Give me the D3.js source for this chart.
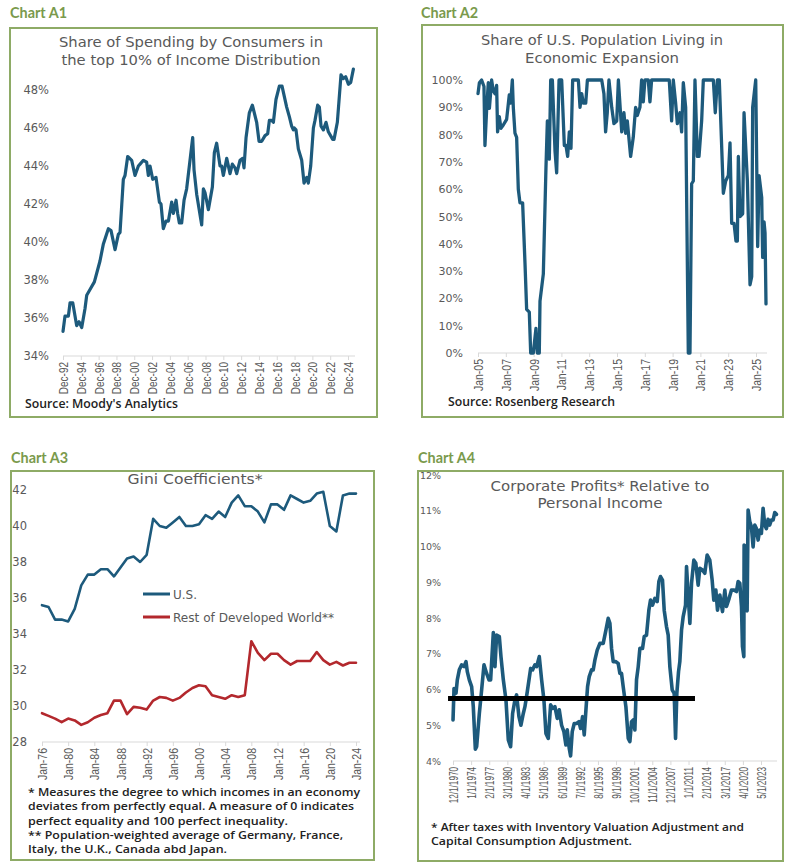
<!DOCTYPE html>
<html>
<head>
<meta charset="utf-8">
<script src="https://cdn.jsdelivr.net/npm/d3@7"></script>
<style>
  body { margin: 0; background: #fff; }
  svg { display: block; }
</style>
</head>
<body>
<script>
// ---- Chart A1: share of spending, top 10% ----
const spendDates = [
  1992.92, 1993.14, 1993.52, 1993.71, 1994.01, 1994.45, 1994.72, 1995.02, 1995.39, 1995.58,
  1995.95, 1996.44, 1997.07, 1997.45, 1998.01, 1998.31, 1998.76, 1999.13, 1999.32, 1999.69,
  1999.88, 2000.18, 2000.63, 2001.00, 2001.38, 2001.57, 2001.94, 2002.31, 2002.50, 2002.69,
  2002.99, 2003.36, 2003.74, 2003.92, 2004.18, 2004.48, 2004.75, 2005.12, 2005.31, 2005.61,
  2005.79, 2005.98, 2006.24, 2006.51, 2006.80, 2007.48, 2007.63, 2007.93, 2008.49, 2008.68,
  2008.86, 2009.24, 2009.69, 2009.91, 2010.17, 2010.55, 2010.73, 2010.92, 2011.30, 2011.67,
  2011.93, 2012.23, 2012.42, 2012.79, 2013.09, 2013.24, 2013.47, 2013.84, 2014.18, 2014.66,
  2014.93, 2015.23, 2015.60, 2015.90, 2016.09, 2016.35, 2016.54, 2016.83, 2017.21, 2017.51,
  2018.03, 2018.33, 2018.59, 2018.78, 2018.89, 2019.08, 2019.34, 2019.72, 2019.98, 2020.28,
  2020.46, 2020.73, 2021.03, 2021.21, 2021.51, 2021.70, 2021.89, 2022.15, 2022.45, 2022.71,
  2023.20, 2023.35, 2023.72, 2024.13, 2024.39, 2024.66, 2024.96, 2025.22, 2025.52
];
const spendShare = [
  35.3, 36.1, 36.1, 36.8, 36.8, 35.6, 35.8, 35.5, 36.5, 37.2,
  37.5, 37.9, 39.0, 39.9, 40.7, 40.6, 39.6, 40.4, 40.5, 43.3,
  43.5, 44.5, 44.3, 43.5, 44.0, 44.1, 44.3, 44.2, 43.5, 44.0,
  43.3, 43.4, 42.1, 42.0, 40.7, 41.1, 41.1, 42.1, 41.5, 42.2,
  41.5, 41.0, 41.0, 42.2, 42.8, 45.5, 43.8, 42.5, 40.9, 42.8,
  42.6, 41.7, 42.9, 44.7, 45.2, 44.0, 44.0, 43.5, 44.4, 43.6,
  44.1, 43.9, 43.6, 44.3, 44.4, 43.9, 45.5, 46.8, 47.2, 46.3,
  45.3, 45.3, 45.6, 45.7, 46.4, 46.4, 46.3, 47.5, 48.2, 48.2,
  47.1, 46.6, 46.1, 45.9, 46.0, 45.9, 44.9, 44.3, 43.1, 43.4,
  43.1, 44.0, 46.0, 46.4, 47.2, 47.1, 46.1, 45.9, 46.3, 45.8,
  45.4, 45.4, 46.3, 48.8, 48.6, 48.7, 48.3, 48.4, 49.1
];
const spendTicks = ["Dec-92", "Dec-94", "Dec-96", "Dec-98", "Dec-00", "Dec-02", "Dec-04", "Dec-06",
  "Dec-08", "Dec-10", "Dec-12", "Dec-14", "Dec-16", "Dec-18", "Dec-20", "Dec-22", "Dec-24"];
const spendY = [34, 36, 38, 40, 42, 44, 46, 48];

// ---- Chart A2: share of population in expansion ----
const popDates = [
  2005.00, 2005.10, 2005.26, 2005.43, 2005.50, 2005.62, 2005.74, 2005.82, 2005.98, 2006.10,
  2006.22, 2006.34, 2006.41, 2006.53, 2006.65, 2006.82, 2007.06, 2007.25, 2007.35, 2007.47,
  2007.54, 2007.66, 2007.78, 2007.90, 2008.02, 2008.21, 2008.38, 2008.50, 2008.69, 2008.79,
  2008.98, 2009.17, 2009.27, 2009.41, 2009.46, 2009.70, 2009.89, 2009.99, 2010.13, 2010.23,
  2010.35, 2010.54, 2010.66, 2010.83, 2011.02, 2011.21, 2011.33, 2011.45, 2011.57, 2011.69,
  2011.81, 2012.22, 2012.34, 2012.46, 2012.58, 2012.75, 2012.87, 2013.90, 2014.06, 2014.18,
  2014.30, 2014.42, 2014.62, 2014.78, 2014.98, 2015.10, 2015.34, 2015.50, 2015.62, 2015.74,
  2015.98, 2016.17, 2016.34, 2016.46, 2016.65, 2016.77, 2016.89, 2017.01, 2017.25, 2017.37,
  2017.49, 2018.76, 2018.93, 2019.05, 2019.22, 2019.34, 2019.53, 2019.65, 2019.77, 2019.94,
  2020.13, 2020.25, 2020.37, 2020.49, 2020.61, 2020.78, 2020.90, 2021.09, 2021.21, 2021.93,
  2022.07, 2022.22, 2022.36, 2022.65, 2022.82, 2023.01, 2023.13, 2023.25, 2023.42, 2023.56,
  2023.66, 2023.73, 2023.85, 2024.04, 2024.14, 2024.38, 2024.57, 2024.69, 2024.76, 2024.98,
  2025.12, 2025.22, 2025.41, 2025.48, 2025.58, 2025.65, 2025.72
];
const popShare = [
  95, 99, 100, 97.6, 76, 89, 99, 89.6, 100, 96,
  95, 98, 81, 86.6, 82.3, 83.5, 85.6, 94.5, 91.5, 100,
  90, 80.5, 79, 60, 55, 55, 33, 16, 15, 0,
  0, 9, 0, 0, 19, 29, 68, 85, 71, 100,
  100, 74, 66, 100, 100, 76, 76, 72, 81, 75,
  100, 100, 90, 95, 91.5, 91.5, 100, 100, 95, 81,
  88, 100, 90, 84, 85, 100, 81, 88, 80.5, 85,
  72, 79, 90, 87, 90, 100, 92, 100, 100, 92,
  100, 100, 85, 100, 91.5, 84, 88, 81, 99, 90,
  0, 0, 62, 63, 100, 72, 72, 85, 100, 100,
  88, 100, 100, 58.5, 63, 65, 77, 47.5, 47.5, 41,
  41, 72, 50, 51, 88, 63, 25, 28, 90, 100,
  39, 65, 57, 35, 48, 44, 18
];
const popTicks = ["Jan-05", "Jan-07", "Jan-09", "Jan-11", "Jan-13", "Jan-15", "Jan-17", "Jan-19",
  "Jan-21", "Jan-23", "Jan-25"];
const popY = [0, 10, 20, 30, 40, 50, 60, 70, 80, 90, 100];

// ---- Chart A3: Gini coefficients ----
const giniYears = d3.range(1976, 2025);
const giniUS = [
  35.6, 35.5, 34.8, 34.8, 34.7, 35.4, 36.7, 37.3, 37.3, 37.6,
  37.6, 37.2, 37.7, 38.2, 38.3, 38.0, 38.4, 40.4, 40.0, 39.9,
  40.2, 40.5, 40.0, 40.0, 40.1, 40.6, 40.4, 40.8, 40.5, 41.3,
  41.7, 41.1, 41.1, 40.8, 40.2, 41.2, 41.2, 40.9, 41.7, 41.5,
  41.3, 41.4, 41.8, 41.9, 40.0, 39.7, 41.7, 41.8, 41.8
];
const giniRest = [
  29.6, 29.45, 29.3, 29.1, 29.3, 29.2, 28.95, 29.1, 29.35, 29.5,
  29.6, 30.3, 30.3, 29.55, 29.95, 29.9, 29.8, 30.3, 30.5, 30.45,
  30.3, 30.45, 30.75, 31.0, 31.15, 31.1, 30.6, 30.5, 30.4, 30.6,
  30.5, 30.6, 33.6, 32.95, 32.55, 32.9, 32.9, 32.55, 32.3, 32.5,
  32.5, 32.5, 33.0, 32.55, 32.3, 32.45, 32.25, 32.4, 32.4
];
const giniTicks = ["Jan-76", "Jan-80", "Jan-84", "Jan-88", "Jan-92", "Jan-96", "Jan-00", "Jan-04",
  "Jan-08", "Jan-12", "Jan-16", "Jan-20", "Jan-24"];
const giniY = [28, 30, 32, 34, 36, 38, 40, 42];
const giniSeries = ["U.S.", "Rest of Developed World**"];

// ---- Chart A4: corporate profits / personal income ----
const profitDates = [
  1970.92, 1971.09, 1971.43, 1971.65, 1971.99, 1972.39, 1972.79, 1973.13, 1973.35, 1973.69,
  1974.09, 1974.37, 1974.72, 1974.94, 1975.40, 1975.79, 1976.19, 1976.64, 1977.04, 1977.32,
  1977.61, 1977.78, 1978.06, 1978.34, 1978.80, 1979.08, 1979.48, 1979.93, 1980.33, 1980.72,
  1981.06, 1981.46, 1981.74, 1982.14, 1982.48, 1982.88, 1983.16, 1983.56, 1984.13, 1984.47,
  1984.86, 1985.15, 1985.60, 1986.00, 1986.39, 1986.73, 1987.13, 1987.53, 1987.87, 1988.26,
  1988.66, 1989.00, 1989.40, 1989.79, 1990.13, 1990.36, 1990.70, 1990.93, 1991.21, 1991.55,
  1991.95, 1992.35, 1992.63, 1992.97, 1993.25, 1993.54, 1993.82, 1994.10, 1994.50, 1994.78,
  1995.07, 1995.46, 1995.92, 1996.48, 1996.94, 1997.33, 1997.62, 1997.90, 1998.18, 1998.58,
  1999.03, 1999.32, 1999.60, 1999.88, 2000.34, 2000.74, 2001.02, 2001.30, 2001.59, 2001.87,
  2002.15, 2002.44, 2002.72, 2003.17, 2003.46, 2003.85, 2004.25, 2004.53, 2004.87, 2005.27,
  2005.67, 2005.95, 2006.23, 2006.57, 2006.86, 2007.25, 2007.54, 2007.82, 2008.22, 2008.56,
  2008.79, 2009.01, 2009.30, 2009.52, 2009.81, 2010.09, 2010.49, 2010.66, 2010.94, 2011.23,
  2011.51, 2011.90, 2012.24, 2012.64, 2012.92, 2013.38, 2013.77, 2014.17, 2014.62, 2015.02,
  2015.30, 2015.65, 2015.93, 2016.33, 2016.78, 2017.18, 2017.46, 2017.91, 2018.31, 2018.76,
  2019.16, 2019.44, 2019.73, 2020.01, 2020.18, 2020.41, 2020.46, 2020.74, 2020.97, 2021.14,
  2021.42, 2021.70, 2021.99, 2022.27, 2022.55, 2022.84, 2023.12, 2023.40, 2023.69, 2023.97,
  2024.25, 2024.54, 2024.82, 2025.10, 2025.39, 2025.67, 2025.96
];
const profitShare = [
  5.15, 6.03, 5.9, 6.27, 6.55, 6.69, 6.64, 6.78, 6.5, 6.27,
  6.08, 5.52, 4.33, 4.4, 5.33, 5.99, 6.69, 6.45, 6.27, 6.27,
  7.1, 7.59, 6.64, 7.52, 7.48, 6.92, 6.27, 5.71, 4.59, 4.4,
  5.33, 5.71, 5.85, 5.24, 5.0, 5.33, 5.52, 5.94, 6.59, 6.55,
  6.69, 6.64, 6.92, 6.27, 5.71, 4.77, 4.63, 5.57, 5.47, 5.52,
  5.19, 5.43, 5.0, 4.82, 4.45, 4.87, 4.35, 4.14, 4.82, 5.05,
  5.05, 5.1, 4.91, 5.24, 4.73, 5.43, 6.08, 6.36, 6.55, 6.55,
  6.83, 7.1, 7.29, 7.29, 7.66, 7.99, 7.85, 7.15, 6.78, 6.78,
  6.73, 6.45, 6.45, 6.08, 5.52, 4.63, 4.54, 5.1, 5.15, 4.87,
  6.27, 6.64, 7.15, 7.15, 7.48, 7.52, 8.22, 8.5, 8.36, 8.55,
  8.46, 9.02, 9.16, 9.06, 8.22, 7.76, 7.52, 6.64, 5.99, 5.89,
  4.63, 5.89, 6.5, 6.78, 7.66, 8.04, 8.36, 9.44, 8.64, 7.85,
  8.97, 9.62, 9.53, 8.92, 9.39, 9.34, 9.25, 9.76, 9.62, 9.06,
  8.5, 8.78, 8.22, 8.64, 8.18, 8.78, 8.32, 8.55, 8.78, 8.78,
  8.74, 9.02, 8.97, 8.32, 7.2, 6.92, 10.04, 10.0, 8.2, 11.02,
  10.7, 10.55, 9.99, 10.6, 10.5, 10.18, 10.46, 10.37, 11.07, 10.6,
  10.5, 10.76, 10.6, 10.74, 10.74, 10.95, 10.9
];
const profitTicks = ["12/1/1970", "1/1/1974", "2/1/1977", "3/1/1980", "4/1/1983", "5/1/1986",
  "6/1/1989", "7/1/1992", "8/1/1995", "9/1/1998", "10/1/2001", "11/1/2004", "12/1/2007",
  "1/1/2011", "2/1/2014", "3/1/2017", "4/1/2020", "5/1/2023"];
const profitY = [4, 5, 6, 7, 8, 9, 10, 11, 12];
const profitAvg = [1970.07, 2012.1];   // span of the black reference line
const profitAvgValue = 5.75;

const FRAME = "#8eab66", TAG = "#7a9a4c", BLUE = "#1d5a7c", RED = "#b3282d", GREY = "#595959", INK = "#222";

const months = { Jan: 0, Feb: 1, Mar: 2, Apr: 3, May: 4, Jun: 5, Jul: 6, Aug: 7, Sep: 8, Oct: 9, Nov: 10, Dec: 11 };
function parseMonYY(s) {
  const [m, yy] = s.split("-");
  const y = +yy >= 50 ? 1900 + +yy : 2000 + +yy;
  return y + months[m] / 12;
}
function parseMDY(s) {
  const [m, , y] = s.split("/").map(Number);
  return y + (m - 1) / 12;
}

const svg = d3.select("body").append("svg").attr("width", 795).attr("height", 868);

function addText(txt, x, y, o) {
  const t = svg.append("text").attr("x", x).attr("y", y).text(txt)
    .attr("font-family", o.font || "DejaVu Sans")
    .attr("font-size", o.size || 12)
    .attr("font-weight", o.weight || "normal")
    .attr("fill", o.color || GREY)
    .attr("text-anchor", o.anchor || "start");
  if (o.width) t.attr("textLength", o.width).attr("lengthAdjust", "spacingAndGlyphs");
  return t;
}

function frame(x, y, w, h, tag, tx, ty) {
  svg.append("rect").attr("x", x).attr("y", y).attr("width", w).attr("height", h)
    .attr("fill", "none").attr("stroke", FRAME).attr("stroke-width", 2);
  addText(tag, tx, ty, { font: "Lato", weight: "bold", size: 14.5, color: TAG, width: 57 });
}

function xAxis(x, y0, ticks, parse, end, squeeze, size) {
  svg.append("line").attr("x1", x.range()[0]).attr("x2", end).attr("y1", y0).attr("y2", y0)
    .attr("stroke", "#d9d9d9");
  const g = svg.append("g").attr("transform", `translate(0,${y0})`)
    .call(d3.axisBottom(x).tickValues(ticks.map(parse)).tickFormat((d, i) => ticks[i])
      .tickSize(4).tickSizeOuter(0));
  g.select(".domain").remove();
  g.selectAll(".tick line").attr("stroke", "#d9d9d9");
  g.selectAll(".tick text")
    .attr("font-family", "Liberation Sans").attr("font-size", size).attr("fill", GREY)
    .attr("transform", "rotate(-90)").attr("x", -6).attr("y", 0).attr("dy", "0.36em")
    .attr("text-anchor", "end")
    .each(function () {
      const n = this.getComputedTextLength();
      d3.select(this).attr("textLength", n * squeeze).attr("lengthAdjust", "spacingAndGlyphs");
    });
}

function yAxis(y, xPos, ticks, fmt, size) {
  const g = svg.append("g").attr("transform", `translate(${xPos},0)`)
    .call(d3.axisLeft(y).tickValues(ticks).tickFormat(fmt).tickSize(0).tickPadding(0));
  g.select(".domain").remove();
  g.selectAll("text").attr("font-family", "DejaVu Sans").attr("font-size", size).attr("fill", GREY);
}

function series(x, y, xs, vs, color, w) {
  const line = d3.line().x((d, i) => x(xs[i])).y(d => y(d));
  svg.append("path").datum(vs).attr("d", line)
    .attr("fill", "none").attr("stroke", color).attr("stroke-width", w)
    .attr("stroke-linejoin", "round").attr("stroke-linecap", "round");
}

const pct = d => d + "%";

// ---------- A1 ----------
frame(10, 28, 367, 389, "Chart A1", 10, 18);
addText("Share of Spending by Consumers in", 191, 47, { size: 13.5, anchor: "middle", width: 264 });
addText("the top 10% of Income Distribution", 191, 65, { size: 13.5, anchor: "middle", width: 259 });
const x1 = d3.scaleLinear().domain([parseMonYY("Dec-92"), parseMonYY("Dec-24")]).range([63, 348]);
const y1 = d3.scaleLinear().domain([34, 48]).range([356, 90]);
yAxis(y1, 49, spendY, pct, 11.5);
xAxis(x1, 356, spendTicks, parseMonYY, 355, 0.8, 12.5);
series(x1, y1, spendDates, spendShare, BLUE, 3.2);
addText("Source: Moody's Analytics", 25, 408, { font: "Open Sans", weight: 600, size: 12, color: INK, width: 153 });

// ---------- A2 ----------
frame(422, 25, 361, 392, "Chart A2", 421, 18);
addText("Share of U.S. Population Living in", 602, 45, { size: 13.5, anchor: "middle", width: 242 });
addText("Economic Expansion", 602, 63, { size: 13.5, anchor: "middle", width: 154 });
const x2 = d3.scaleLinear().domain([parseMonYY("Jan-05"), parseMonYY("Jan-25")]).range([478, 756]);
const y2 = d3.scaleLinear().domain([0, 100]).range([353, 80]);
yAxis(y2, 463, popY, pct, 11);
xAxis(x2, 353, popTicks, parseMonYY, 767, 0.84, 12.5);
series(x2, y2, popDates, popShare, BLUE, 3.3);
addText("Source: Rosenberg Research", 448, 406, { font: "Open Sans", weight: 600, size: 12, color: INK, width: 167 });

// ---------- A3 ----------
frame(11, 471, 363, 389, "Chart A3", 11, 463);
addText("Gini Coefficients*", 195, 484, { size: 13.5, anchor: "middle", width: 135 });
const x3 = d3.scaleLinear().domain([parseMonYY("Jan-76"), parseMonYY("Jan-24")]).range([42, 356]);
const y3 = d3.scaleLinear().domain([28, 42]).range([742, 490]);
yAxis(y3, 27, giniY, d => d, 11.5);
xAxis(x3, 742, giniTicks, parseMonYY, 360, 0.84, 12.5);
series(x3, y3, giniYears, giniUS, BLUE, 2.6);
series(x3, y3, giniYears, giniRest, RED, 2.6);
// legend
[[BLUE, 594, 24], [RED, 617, 161]].forEach(([c, ly, w], i) => {
  svg.append("line").attr("x1", 143).attr("x2", 170).attr("y1", ly).attr("y2", ly)
    .attr("stroke", c).attr("stroke-width", 3);
  addText(giniSeries[i], 173, ly + 4.5, { size: 12, width: w });
});
const giniNotes = [
  ["* Measures the degree to which incomes in an economy", 332],
  ["deviates from perfectly equal. A measure of 0 indicates", 326],
  ["perfect equality and 100 perfect inequality.", 260],
  ["** Population-weighted average of Germany, France,", 315],
  ["Italy, the U.K., Canada abd Japan.", 199]
];
giniNotes.forEach(([t, w], i) => {
  addText(t, 28, 796 + i * 14.3, { font: "Open Sans", weight: 600, size: 11.5, color: INK, width: w });
});

// ---------- A4 ----------
frame(418, 471, 365, 390, "Chart A4", 418, 463);
addText("Corporate Profits* Relative to", 600, 491, { size: 13.5, anchor: "middle", width: 219 });
addText("Personal Income", 600, 508, { size: 13.5, anchor: "middle", width: 125 });
const x4 = d3.scaleLinear().domain([parseMDY("12/1/1970"), parseMDY("5/1/2023")]).range([453, 761]);
const y4 = d3.scaleLinear().domain([4, 12]).range([761, 475]);
yAxis(y4, 441, profitY, pct, 9.5);
xAxis(x4, 761, profitTicks, parseMDY, 777, 0.68, 12);
series(x4, y4, profitDates, profitShare, BLUE, 3.6);
svg.append("line")
  .attr("x1", x4(profitAvg[0])).attr("x2", x4(profitAvg[1]))
  .attr("y1", y4(profitAvgValue)).attr("y2", y4(profitAvgValue))
  .attr("stroke", "#000").attr("stroke-width", 5);
addText("* After taxes with Inventory Valuation Adjustment and", 431, 831, { font: "Open Sans", weight: 600, size: 11.5, color: INK, width: 313 });
addText("Capital Consumption Adjustment.", 431, 844.5, { font: "Open Sans", weight: 600, size: 11.5, color: INK, width: 201 });
</script>
</body>
</html>
